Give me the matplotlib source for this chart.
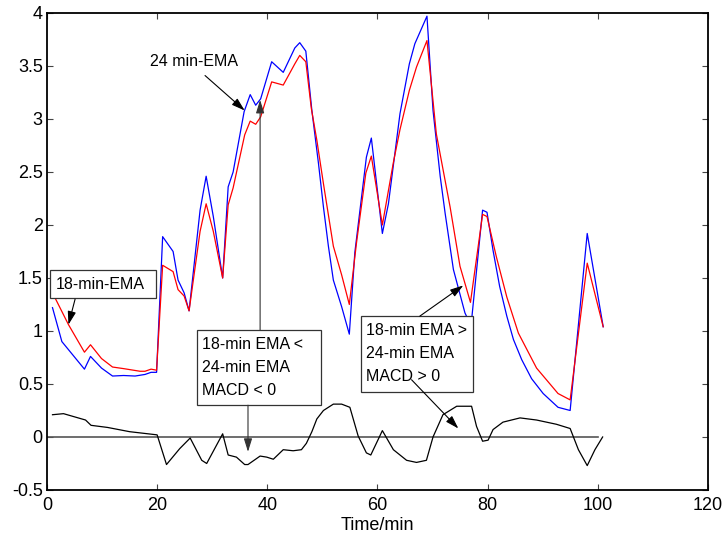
import matplotlib
matplotlib.use("Agg")
from matplotlib import pyplot as plt
from matplotlib.patches import Rectangle

plt.rcParams['font.family'] = ['Liberation Sans', 'DejaVu Sans']

# 24-min EMA (blue)
t_ema24 = [1, 2.7, 6.8, 7.9, 9.9, 11.9, 13.9, 16, 17.8, 18.9, 19.9, 21, 22.9, 23.8, 24.9, 25.8,
           27.8, 28.9, 30.2, 31.9, 32.9, 33.8, 35.8, 36.9, 37.9, 38.8, 40.8, 42.9, 45, 45.9, 47,
           48.1, 49.3, 50.2, 51.1, 52, 53.5, 54.9, 55.9, 58, 58.9, 60.9, 62, 64.1, 65.8, 66.8, 69,
           70.1, 71.4, 72.3, 73.8, 75.9, 77, 79.1, 79.9, 81, 82.2, 83.5, 84.7, 86.2, 88, 90.1,
           92.8, 95, 98.1, 101]
ema24 = [1.22, 0.90, 0.64, 0.76, 0.65, 0.575, 0.58, 0.575, 0.59, 0.61, 0.61, 1.89, 1.75, 1.48, 1.36, 1.19,
         2.14, 2.46, 2.08, 1.50, 2.36, 2.50, 3.07, 3.23, 3.13, 3.19, 3.54, 3.44, 3.67, 3.72, 3.64,
         3.08, 2.58, 2.17, 1.80, 1.48, 1.23, 0.97, 1.74, 2.64, 2.82, 1.92, 2.20, 3.05, 3.52, 3.71, 3.97,
         3.08, 2.46, 2.11, 1.58, 1.17, 1.05, 2.14, 2.12, 1.76, 1.42, 1.14, 0.92, 0.73, 0.55, 0.41,
         0.28, 0.25, 1.92, 1.04]

# 18-min EMA (red)
t_ema18 = [1, 3.9, 6.8, 7.9, 9.9, 11.9, 13.9, 16.9, 17.8, 18.9, 19.9, 21, 22.9, 23.8, 24.9, 25.8,
           27.8, 28.9, 30.2, 31.9, 32.9, 33.8, 35.9, 36.9, 37.9, 38.8, 40.8, 42.9, 45, 45.9, 47,
           48, 49, 50.2, 52, 53.5, 54.9, 56.2, 57.9, 58.9, 60.9, 62.9, 64.1, 65.8, 67.1, 69,
           70.7, 73.2, 75, 76.9, 79.1, 79.9, 81.6, 83.5, 85.6, 88.9, 92.8, 95, 98.1, 101]
ema18 = [1.36, 1.06, 0.80, 0.87, 0.74, 0.66, 0.645, 0.62, 0.62, 0.64, 0.63, 1.62, 1.56, 1.39, 1.33, 1.19,
         1.94, 2.20, 1.94, 1.50, 2.19, 2.35, 2.85, 2.98, 2.95, 3.02, 3.35, 3.32, 3.52, 3.60, 3.54,
         3.10, 2.80, 2.39, 1.80, 1.53, 1.25, 1.83, 2.49, 2.65, 2.00, 2.59, 2.90, 3.27, 3.49, 3.74,
         2.86, 2.17, 1.61, 1.27, 2.10, 2.08, 1.70, 1.32, 0.98, 0.65, 0.41, 0.35, 1.64, 1.04]

# MACD (black)
t_macd = [1, 3, 7, 8, 11, 15, 20, 21.7, 24.1, 26, 28.1, 29, 31.9, 32.9, 34.4, 35.9, 36.5, 38.7,
          39.9, 41.1, 42.9, 44.7, 46.2, 47.1, 48.1, 49, 50.2, 52, 53.5, 55, 56.5, 58, 58.8, 60.9,
          62.9, 65.3, 67.1, 68.9, 70.1, 71.9, 74.4, 77.1, 78, 79.1, 80.1, 81, 82.8, 85.9, 88.9,
          92.5, 95, 96.5, 98.1, 99.5, 100.9]
macd = [0.21, 0.22, 0.16, 0.11, 0.09, 0.05, 0.02, -0.26, -0.11, -0.01, -0.22, -0.25, 0.03, -0.17, -0.19,
        -0.26, -0.26, -0.18, -0.19, -0.21, -0.12, -0.13, -0.12, -0.06, 0.05, 0.17, 0.25, 0.31, 0.31,
        0.28, 0.01, -0.15, -0.17, 0.06, -0.12, -0.22, -0.24, -0.22, 0.0, 0.21, 0.29, 0.29, 0.10,
        -0.04, -0.03, 0.07, 0.14, 0.18, 0.16, 0.12, 0.08, -0.12, -0.27, -0.12, 0.0]

x_ticks = [0, 20, 40, 60, 80, 100, 120]
y_ticks = [-0.5, 0, 0.5, 1, 1.5, 2, 2.5, 3, 3.5, 4]

fig = plt.figure(figsize=(7.23, 5.46), dpi=100)
ax = fig.add_axes([0.065, 0.1026, 0.914, 0.8736])

ax.plot(t_ema24, ema24, color='#0000ff', lw=0.9)
ax.plot(t_ema18, ema18, color='#ff0000', lw=0.9)
ax.plot([0, 100], [0, 0], color='#555555', lw=1.2)
ax.plot(t_macd, macd, color='black', lw=0.9)

ax.set_xlim(0, 120)
ax.set_ylim(-0.5, 4)
ax.set_xticks(x_ticks)
ax.set_yticks(y_ticks)
ax.set_xticklabels([str(v) for v in x_ticks])
ax.set_yticklabels(['-0.5', '0', '0.5', '1', '1.5', '2', '2.5', '3', '3.5', '4'])
ax.tick_params(direction='in', length=4, width=0.8, top=True, right=True, labelsize=13, pad=3,
               color='#444444')
ax.tick_params(axis='x', pad=5)
for sp in ax.spines.values():
    sp.set_linewidth(1.3)
ax.set_xlabel('Time/min', fontsize=13, labelpad=2)

arrow = dict(arrowstyle='-|>,head_length=0.8,head_width=0.25', color='black', lw=0.8,
             shrinkA=0, shrinkB=0)

# 24 min-EMA label
ax.text(26.7, 3.54, '24 min-EMA', fontsize=11.5, ha='center', va='center')
ax.annotate('', xy=(35.9, 3.08), xytext=(28.7, 3.41), arrowprops=arrow, zorder=6)

# 18-min-EMA box
ax.add_patch(Rectangle((0.54, 1.31), 19.26, 0.265, fc='white', ec='#333333', lw=0.9, zorder=4))
ax.text(1.5, 1.44, '18-min-EMA', fontsize=11.5, ha='left', va='center', zorder=5)
ax.annotate('', xy=(3.9, 1.06), xytext=(5.1, 1.30), arrowprops=arrow, zorder=6)

# MACD < 0 box
ax.add_patch(Rectangle((27.2, 0.30), 22.6, 0.71, fc='white', ec='#333333', lw=0.9, zorder=4))
ax.text(28.1, 0.655, '18-min EMA <\n24-min EMA\nMACD < 0', fontsize=11.5, ha='left', va='center',
        linespacing=1.65, zorder=5)
ax.annotate('', xy=(38.7, 3.18), xytext=(38.7, 1.01),
            arrowprops=dict(arrow, color='#333333'), zorder=6)
ax.annotate('', xy=(36.5, -0.14), xytext=(36.5, 0.30),
            arrowprops=dict(arrow, color='#333333'), zorder=6)

# MACD > 0 box
ax.add_patch(Rectangle((57.0, 0.42), 20.4, 0.72, fc='white', ec='#333333', lw=0.9, zorder=4))
ax.text(57.9, 0.79, '18-min EMA >\n24-min EMA\nMACD > 0', fontsize=11.5, ha='left', va='center',
        linespacing=1.65, zorder=5)
ax.annotate('', xy=(75.6, 1.43), xytext=(67.7, 1.14), arrowprops=arrow, zorder=6)
ax.annotate('', xy=(74.7, 0.08), xytext=(66.2, 0.54), arrowprops=arrow, zorder=6)

fig.savefig('out.png', dpi=100)
